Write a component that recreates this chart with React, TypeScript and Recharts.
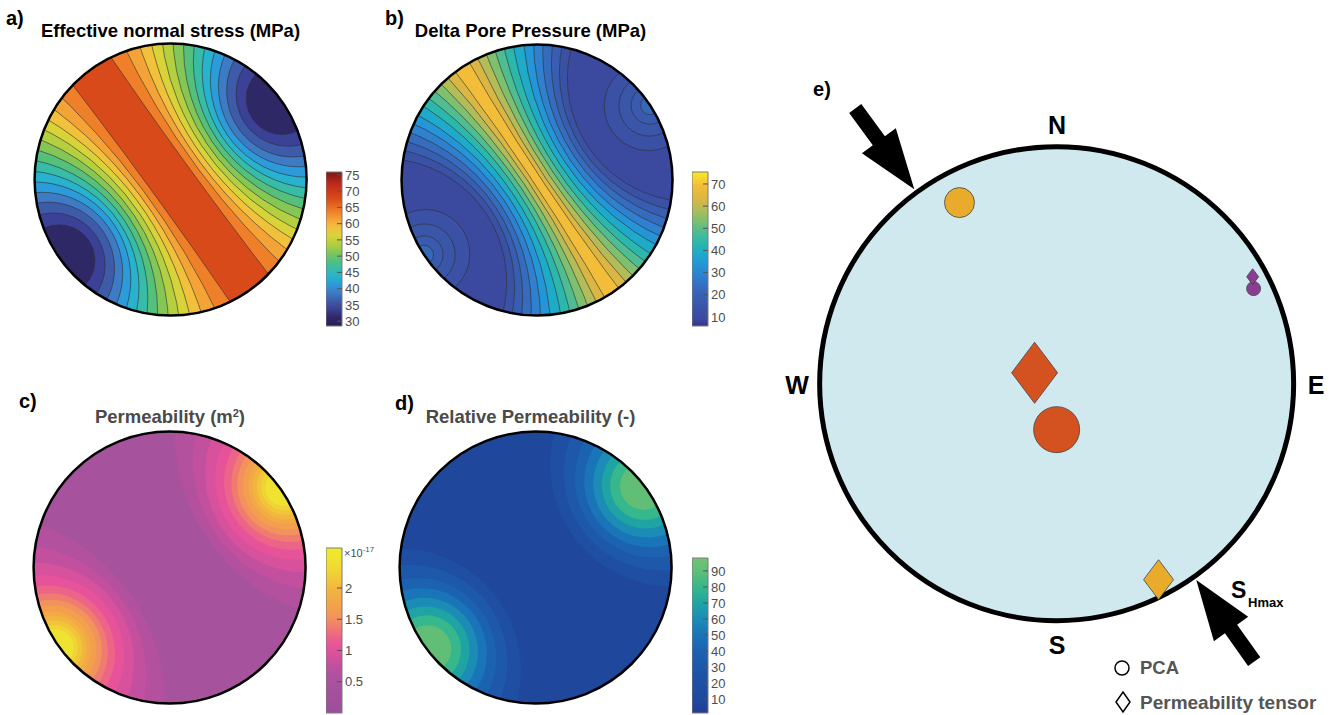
import React from 'react';
import { ScatterChart, Scatter, XAxis, YAxis, ZAxis, ComposedChart, ReferenceArea } from 'recharts';

const FONT = '"Liberation Sans", Arial, Helvetica, sans-serif';

// Each contour is read off the picture as: where it crosses the pole axis (fraction of the
// net radius from the centre) and the half-angle it cuts on the rim around the pole.
// Sets are mirrored through the centre for the antipodal pole.

// a) Effective normal stress (MPa)
const stressPoleAz = 54;
const stressMax = 67.8;
const stressPole = 30;
const stressLevels = [65, 62.5, 60, 57.5, 55, 52.5, 50, 47.5, 45, 42.5, 40, 37.5, 35, 32.5];
const stressCross = [0.16, 0.21, 0.25, 0.29, 0.33, 0.37, 0.41, 0.45, 0.49, 0.53, 0.575, 0.625, 0.685, 0.75];
const stressRim = [80, 73, 67, 62, 57.5, 53, 48.5, 44, 39.5, 35, 30.5, 26, 21, 15];
const stressTicks = [30, 35, 40, 45, 50, 55, 60, 65, 70, 75];

// b) Delta pore pressure (MPa)
const poreAz = 56.5;
const poreMax = 69;
const porePlateau = 7;
const poreLevels = [66, 61, 56, 51, 46, 41, 36, 31, 26, 21, 16, 11];
const poreCross = [0.03, 0.06, 0.095, 0.13, 0.165, 0.205, 0.245, 0.285, 0.325, 0.365, 0.405, 0.45];
const poreRim = [86.5, 82.5, 78.5, 74.5, 70.5, 66.5, 62, 58, 54, 50, 46, 42];
const poreRingLevels = [12, 14, 16, 18];
const poreRingCross = [0.66, 0.77, 0.86, 0.93];
const poreRingRim = [19, 13, 8, 4];
const poreRingPole = 26;
const poreTicks = [10, 20, 30, 40, 50, 60, 70];

// c) Permeability (x1e-17 m2)
const permAz = 55;
const permBase = 0.45;
const permPole = 2.55;
const permLevels = [0.55, 0.7, 0.85, 1.0, 1.15, 1.3, 1.45, 1.6, 1.75, 1.9, 2.05, 2.2, 2.35];
const permCross = [0.35, 0.42, 0.48, 0.54, 0.6, 0.65, 0.69, 0.73, 0.77, 0.8, 0.83, 0.86, 0.89];
const permRim = [53, 44, 37, 31.5, 27, 23.5, 20.5, 18, 15.5, 13.5, 11.5, 9.5, 7.5];
const permTicks = [0.5, 1, 1.5, 2];

// d) Relative permeability (-)
const relAz = 53;
const relBase = 8;
const relPole = 95;
const relLevels = [15, 25, 35, 45, 55, 65, 75, 85];
const relCross = [0.36, 0.44, 0.51, 0.57, 0.63, 0.69, 0.75, 0.82];
const relRim = [45, 38, 32, 27, 22.5, 18.5, 14.5, 10];
const relTicks = [10, 20, 30, 40, 50, 60, 70, 80, 90];

// e) orientations on the net (x east, y north, unit radius), w = relative magnitude
const pcaX = [-0.41, 0.0, 0.831];
const pcaY = [0.764, -0.194, 0.401];
const pcaW = [0.425, 1.0, 0.093];
const pcaAxis = [2, 1, 3];
const tensorX = [-0.093, 0.43, 0.827];
const tensorY = [0.046, -0.827, 0.451];
const tensorW = [1.0, 0.425, 0.068];
const tensorAxis = [1, 2, 3];
const shmaxAz = [323.8, 144.6];

// colour maps (value -> colour)
type Stop = [number, string];
const cmapStress: Stop[] = [
  [28.5, '#2a1e57'], [31.25, '#2f2867'], [33.75, '#3b4196'], [36.25, '#3e5ba9'], [38.75, '#3d7bc4'],
  [41.25, '#2c9bd9'], [43.75, '#29b2cd'], [46.25, '#37bca8'], [48.75, '#55c07c'], [51.25, '#85c757'],
  [53.75, '#b4cf3f'], [56.25, '#d9d33a'], [58.75, '#f1c13c'], [61.25, '#f4a337'], [63.75, '#ef7f29'],
  [67.8, '#d94a1a'], [72, '#c02b1c'], [75.9, '#7e1717'],
];
const cmapPore: Stop[] = [
  [5.9, '#353189'], [9, '#3b4a9e'], [13.5, '#3a52a6'], [18.5, '#385eb1'], [23.5, '#356cbe'],
  [28.5, '#2f80cf'], [33.5, '#2495d6'], [38.5, '#1eaac8'], [43.5, '#2cb7ad'], [48.5, '#4fbc91'],
  [53.5, '#7fbf70'], [58.5, '#b2bc58'], [63.5, '#dcb643'], [69, '#f2bd38'], [71, '#f6c83a'], [75.4, '#f7ec1b'],
];
const cmapPerm: Stop[] = [
  [0, '#9b4e9b'], [0.45, '#a7529d'], [0.625, '#b3519e'], [0.775, '#c3509f'], [0.925, '#d7519d'],
  [1.075, '#e6539a'], [1.225, '#ec6588'], [1.375, '#f07b70'], [1.525, '#f2925c'], [1.675, '#f39f4e'],
  [1.825, '#f3aa46'], [1.975, '#f2b63f'], [2.125, '#f1c53a'], [2.275, '#f0d434'], [2.45, '#efe230'], [2.64, '#eeeb2c'],
];
const cmapRel: Stop[] = [
  [1.25, '#243b93'], [8, '#1f489c'], [20, '#1e4fa3'], [30, '#1d58aa'], [40, '#1b63b1'], [50, '#1a74b8'],
  [60, '#1b8cb6'], [70, '#1fa4a3'], [80, '#37b78c'], [90, '#60be77'], [98, '#72c172'],
];

const AXIS_COLORS: Record<number, string> = { 1: '#d4521f', 2: '#e8ab2c', 3: '#8b3d93' };

function hex(h: string) {
  return [parseInt(h.slice(1, 3), 16), parseInt(h.slice(3, 5), 16), parseInt(h.slice(5, 7), 16)];
}
function colorAt(stops: Stop[], v: number) {
  if (v <= stops[0][0]) return stops[0][1];
  for (let i = 1; i < stops.length; i++) {
    if (v <= stops[i][0]) {
      const t = (v - stops[i - 1][0]) / (stops[i][0] - stops[i - 1][0]);
      const a = hex(stops[i - 1][1]);
      const b = hex(stops[i][1]);
      const c = a.map((x, k) => Math.round(x + (b[k] - x) * t));
      return `rgb(${c[0]},${c[1]},${c[2]})`;
    }
  }
  return stops[stops.length - 1][1];
}

type Ring = { x: number; y: number; r: number; value: number };
function contourSet(az: number, levels: number[], cross: number[], rim: number[], poleValue: number): Ring[] {
  const a = (az * Math.PI) / 180;
  const out: Ring[] = [];
  [1, -1].forEach((side) => {
    levels.forEach((lv, i) => {
      const s = cross[i];
      const c = Math.cos((rim[i] * Math.PI) / 180);
      const d = (1 - s * s) / (2 * (c - s));
      const next = i + 1 < levels.length ? levels[i + 1] : poleValue;
      out.push({ x: side * d * Math.sin(a), y: side * d * Math.cos(a), r: d - s, value: (lv + next) / 2 });
    });
  });
  return out;
}

const stressRings = contourSet(stressPoleAz, stressLevels, stressCross, stressRim, stressPole);
const poreRings = [
  ...contourSet(poreAz, poreLevels, poreCross, poreRim, porePlateau),
  ...contourSet(poreAz, poreRingLevels, poreRingCross, poreRingRim, poreRingPole),
];
const permRings = contourSet(permAz, permLevels, permCross, permRim, permPole);
const relRings = contourSet(relAz, relLevels, relCross, relRim, relPole);

const pcaData = pcaX.map((x, i) => ({ x, y: pcaY[i], w: pcaW[i], axis: pcaAxis[i] }));
const tensorData = tensorX.map((x, i) => ({ x, y: tensorY[i], w: tensorW[i], axis: tensorAxis[i] }));
const shmaxData = shmaxAz.map((az) => ({
  x: 1.017 * Math.sin((az * Math.PI) / 180),
  y: 1.017 * Math.cos((az * Math.PI) / 180),
  w: 0,
}));
const ORIGIN = [{ x: 0, y: 0, w: 0 }];

const DISK_DOM = 1.1;
const NO_MARGIN = { top: 0, right: 0, bottom: 0, left: 0 };

function Disk({ cx, cy, radius, id, base, cmap, rings, lines }: {
  cx: number; cy: number; radius: number; id: string; base: number; cmap: Stop[]; rings: Ring[]; lines: boolean;
}) {
  const size = 2 * DISK_DOM * radius;
  return (
    <div style={{ position: 'absolute', left: cx - size / 2, top: cy - size / 2 }}>
      <ScatterChart width={size} height={size} margin={NO_MARGIN}>
        <XAxis type="number" dataKey="x" domain={[-DISK_DOM, DISK_DOM]} hide allowDataOverflow />
        <YAxis type="number" dataKey="y" domain={[-DISK_DOM, DISK_DOM]} hide allowDataOverflow />
        <Scatter
          data={ORIGIN}
          isAnimationActive={false}
          shape={(p: any) => (
            <g>
              <defs>
                <clipPath id={id}>
                  <circle cx={p.cx} cy={p.cy} r={radius} />
                </clipPath>
              </defs>
              <circle cx={p.cx} cy={p.cy} r={radius} fill={colorAt(cmap, base)} />
            </g>
          )}
        />
        <Scatter
          data={rings}
          isAnimationActive={false}
          shape={(p: any) => (
            <circle
              cx={p.cx}
              cy={p.cy}
              r={p.payload.r * radius}
              fill={colorAt(cmap, p.payload.value)}
              stroke={lines ? '#2f2f2f' : 'none'}
              strokeWidth={0.7}
              strokeOpacity={0.85}
              clipPath={`url(#${id})`}
            />
          )}
        />
        <Scatter
          data={ORIGIN}
          isAnimationActive={false}
          shape={(p: any) => <circle cx={p.cx} cy={p.cy} r={radius} fill="none" stroke="#000" strokeWidth={2.5} />}
        />
      </ScatterChart>
    </div>
  );
}

const CbTick = (props: any) => {
  const { x, y, payload } = props;
  return (
    <g>
      <line x1={x - 5} x2={x} y1={y} y2={y} stroke="#555" strokeWidth={1} />
      <text x={x + 3} y={y} dy="0.36em" fontSize={13} fill="#4d4d4d" fontFamily={FONT}>
        {payload.value}
      </text>
    </g>
  );
};

const CB_DATA = [{ x: 0 }, { x: 1 }];
function Colorbar({ left, top, height, domain, ticks, id }: {
  left: number; top: number; height: number; domain: [number, number]; ticks: number[]; id: string;
}) {
  const pad = 10;
  return (
    <div style={{ position: 'absolute', left, top: top - pad }}>
      <ComposedChart width={60} height={height + 2 * pad} margin={{ top: pad, right: 0, bottom: pad, left: 0 }} data={CB_DATA}>
        <XAxis type="number" dataKey="x" domain={[0, 1]} hide />
        <YAxis
          type="number"
          domain={domain}
          ticks={ticks}
          interval={0}
          orientation="right"
          width={44}
          axisLine={false}
          tickLine={false}
          tickSize={0}
          tickMargin={0}
          allowDataOverflow
          tick={<CbTick />}
        />
        <ReferenceArea x1={0} x2={1} y1={domain[0]} y2={domain[1]} fill={`url(#${id})`} fillOpacity={1} stroke="#7a7a7a" strokeWidth={1} />
      </ComposedChart>
    </div>
  );
}

function Gradient({ id, cmap, domain }: { id: string; cmap: Stop[]; domain: [number, number] }) {
  return (
    <linearGradient id={id} x1="0" y1="1" x2="0" y2="0">
      {cmap.map(([v, c], i) => (
        <stop key={i} offset={Math.min(1, Math.max(0, (v - domain[0]) / (domain[1] - domain[0])))} stopColor={c} />
      ))}
    </linearGradient>
  );
}

function Txt({ x, y, size, children, color = '#000', anchor = 'middle' }: {
  x: number; y: number; size: number; children: React.ReactNode; color?: string; anchor?: 'middle' | 'start';
}) {
  return (
    <div
      style={{
        position: 'absolute', left: x, top: y, transform: `translate(${anchor === 'middle' ? '-50%' : '0'},-50%)`,
        fontSize: size, fontWeight: 700, color, lineHeight: 1, whiteSpace: 'nowrap', fontFamily: FONT,
      }}
    >
      {children}
    </div>
  );
}

// panel e geometry
const E_R = 237;
const E_DOM = 1.45;
const E_SIZE = 2 * E_DOM * E_R;
const E_CX = 1057;
const E_CY = 384;

const netShape = (p: any) => (
  <circle cx={p.cx} cy={p.cy} r={E_R} fill="#cfe9ee" stroke="#000" strokeWidth={5} />
);
const circleShape = (p: any) => (
  <circle cx={p.cx} cy={p.cy} r={p.width / 2} fill={AXIS_COLORS[p.payload.axis]} stroke="#444" strokeWidth={0.8} />
);
const diamondShape = (p: any) => {
  const hw = p.width / 2;
  const hh = hw * 1.33;
  const pts = `${p.cx},${p.cy - hh} ${p.cx + hw},${p.cy} ${p.cx},${p.cy + hh} ${p.cx - hw},${p.cy}`;
  return <polygon points={pts} fill={AXIS_COLORS[p.payload.axis]} stroke="#444" strokeWidth={0.8} />;
};
const arrowShape = (p: any) => {
  const { cx, cy, payload } = p;
  const len = Math.hypot(payload.x, payload.y);
  const ux = -payload.x / len;
  const uy = payload.y / len;
  const nx = -uy;
  const ny = ux;
  const L = 100, HL = 60, HW = 21, SW = 7.5;
  const hx = cx - ux * HL, hy = cy - uy * HL;
  const tx = cx - ux * L, ty = cy - uy * L;
  const pts = [
    [cx, cy], [hx + nx * HW, hy + ny * HW], [hx + nx * SW, hy + ny * SW], [tx + nx * SW, ty + ny * SW],
    [tx - nx * SW, ty - ny * SW], [hx - nx * SW, hy - ny * SW], [hx - nx * HW, hy - ny * HW],
  ].map((q) => q.join(',')).join(' ');
  return <polygon points={pts} fill="#000" />;
};

export default function App() {
  const dStress: [number, number] = [28.5, 75.9];
  const dPore: [number, number] = [5.9, 75.4];
  const dPerm: [number, number] = [0, 2.64];
  const dRel: [number, number] = [1.25, 98.1];
  return (
    <div style={{ position: 'absolute', left: 0, top: 0, width: 1334, height: 715, overflow: 'hidden', background: '#fff', fontFamily: FONT }}>
      <svg width={0} height={0} style={{ position: 'absolute' }}>
        <defs>
          <Gradient id="gStress" cmap={cmapStress} domain={dStress} />
          <Gradient id="gPore" cmap={cmapPore} domain={dPore} />
          <Gradient id="gPerm" cmap={cmapPerm} domain={dPerm} />
          <Gradient id="gRel" cmap={cmapRel} domain={dRel} />
        </defs>
      </svg>

      <Disk cx={170.5} cy={180} radius={136} id="clipA" base={stressMax} cmap={cmapStress} rings={stressRings} lines />
      <Disk cx={537} cy={180} radius={135.5} id="clipB" base={poreMax} cmap={cmapPore} rings={poreRings} lines />
      <Disk cx={169.5} cy={568} radius={136} id="clipC" base={permBase} cmap={cmapPerm} rings={permRings} lines={false} />
      <Disk cx={536} cy={568} radius={136} id="clipD" base={relBase} cmap={cmapRel} rings={relRings} lines={false} />

      <Colorbar left={326} top={172} height={154} domain={dStress} ticks={stressTicks} id="gStress" />
      <Colorbar left={692} top={172} height={154} domain={dPore} ticks={poreTicks} id="gPore" />
      <Colorbar left={326} top={548} height={165} domain={dPerm} ticks={permTicks} id="gPerm" />
      <Colorbar left={692} top={558} height={155} domain={dRel} ticks={relTicks} id="gRel" />

      <div style={{ position: 'absolute', left: E_CX - E_SIZE / 2, top: E_CY - E_SIZE / 2 }}>
        <ScatterChart width={E_SIZE} height={E_SIZE} margin={NO_MARGIN}>
          <XAxis type="number" dataKey="x" domain={[-E_DOM, E_DOM]} hide allowDataOverflow />
          <YAxis type="number" dataKey="y" domain={[-E_DOM, E_DOM]} hide allowDataOverflow />
          <ZAxis type="number" dataKey="w" domain={[0, 1]} range={[0, 1662]} />
          <Scatter data={ORIGIN} isAnimationActive={false} shape={netShape} />
          <Scatter name="PCA" data={pcaData} isAnimationActive={false} shape={circleShape} />
          <Scatter name="Permeability tensor" data={tensorData} isAnimationActive={false} shape={diamondShape} />
          <Scatter name="SHmax" data={shmaxData} isAnimationActive={false} shape={arrowShape} />
        </ScatterChart>
      </div>

      <Txt x={6} y={18} size={20} anchor="start">a)</Txt>
      <Txt x={170.5} y={31} size={18.5}>Effective normal stress (MPa)</Txt>
      <Txt x={385} y={18} size={20} anchor="start">b)</Txt>
      <Txt x={530.5} y={31} size={18.5}>Delta Pore Pressure (MPa)</Txt>
      <Txt x={19} y={401} size={20} anchor="start">c)</Txt>
      <Txt x={170} y={417} size={18.5} color="#4a4a4a">
        Permeability (m<sup style={{ fontSize: 11, verticalAlign: 6 }}>2</sup>)
      </Txt>
      <Txt x={395} y={403} size={20} anchor="start">d)</Txt>
      <Txt x={530.5} y={417} size={18.5} color="#4a4a4a">Relative Permeability (-)</Txt>

      <div style={{ position: 'absolute', left: 344, top: 546, fontSize: 11, color: '#4d4d4d', fontFamily: FONT, lineHeight: 1, whiteSpace: 'nowrap' }}>
        ×10<sup style={{ fontSize: 8, verticalAlign: 5 }}>-17</sup>
      </div>

      <Txt x={822} y={89} size={20}>e)</Txt>
      <Txt x={1057} y={125} size={25}>N</Txt>
      <Txt x={1057} y={645} size={25}>S</Txt>
      <Txt x={797} y={385} size={25}>W</Txt>
      <Txt x={1316} y={385} size={25}>E</Txt>
      <Txt x={1231} y={590} size={23} anchor="start">S</Txt>
      <Txt x={1248} y={602} size={13} anchor="start">Hmax</Txt>

      <svg width={30} height={60} style={{ position: 'absolute', left: 1108, top: 654 }}>
        <circle cx={14} cy={14} r={7} fill="#fff" stroke="#000" strokeWidth={1.5} />
        <polygon points="15,38 22,48 15,58 8,48" fill="#fff" stroke="#000" strokeWidth={1.5} />
      </svg>
      <Txt x={1140} y={668} size={18.5} color="#555" anchor="start">PCA</Txt>
      <Txt x={1140} y={702} size={19} color="#555" anchor="start">Permeability tensor</Txt>
    </div>
  );
}
